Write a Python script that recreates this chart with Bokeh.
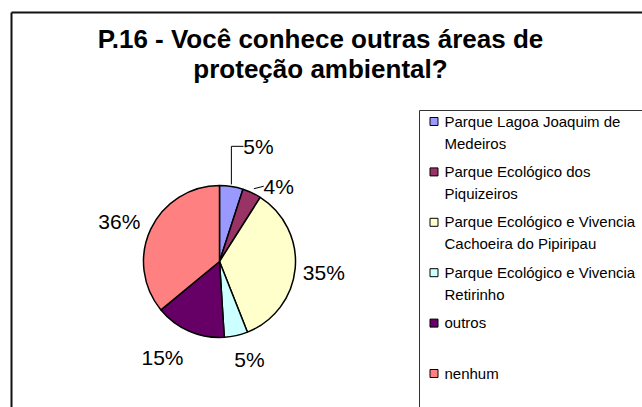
import math
from bokeh.plotting import figure
from bokeh.models import Range1d
from bokeh.core.properties import value
from bokeh.embed import file_html
from bokeh.resources import INLINE

# ---- data ----
categories = [
    "Parque Lagoa Joaquim de\nMedeiros",
    "Parque Ecológico dos\nPiquizeiros",
    "Parque Ecológico e Vivencia\nCachoeira do Pipiripau",
    "Parque Ecológico e Vivencia\nRetirinho",
    "outros",
    "nenhum",
]
values = [5, 4, 35, 5, 15, 36]
pct_labels = ["5%", "4%", "35%", "5%", "15%", "36%"]
colors = ["#9999FF", "#993366", "#FFFFCC", "#CCFFFF", "#660066", "#FF8080"]
title_lines = ["P.16 - Você conhece outras áreas de", "proteção ambiental?"]

# ---- layout ----
W, H = 642, 407
def sx(x):
    return x
def sy(y):
    return H - y

FONT = "Liberation Sans"
cx, cy, R = sx(219), sy(261), 76
label_angle_offset = [9.7, 13.0, 0.6, -4.4, 7.3, -3.4]
label_radius_factor = [1.60, 1.26, 1.38, 1.35, 1.47, 1.42]
has_leader = [True, True, False, False, False, False]

p = figure(width=W, height=H, output_backend="svg", toolbar_location=None,
           x_range=Range1d(0, W), y_range=Range1d(0, H), min_border=0)
p.axis.visible = False
p.grid.visible = False
p.outline_line_color = None
p.background_fill_color = "white"
p.border_fill_color = "white"

# outer chart frame (top & left edges visible)
p.multi_line(xs=[[sx(11), sx(11)], [sx(11), sx(700)]],
             ys=[[sy(500), sy(12)], [sy(12), sy(12)]],
             line_color="#111111", line_width=2)

# title
p.text(x=[sx(320)] * 2, y=[sy(38), sy(68)], text=title_lines, text_font=value(FONT),
       text_font_style="bold", text_font_size="26px", text_align="center",
       text_baseline="middle", text_color="black")

# pie
total = float(sum(values))
cum = 0.0
starts, ends, mids = [], [], []
for v in values:
    a0 = cum / total
    cum += v
    a1 = cum / total
    starts.append(math.pi / 2 - a0 * 2 * math.pi)
    ends.append(math.pi / 2 - a1 * 2 * math.pi)
    mids.append((a0 + a1) / 2 * 360.0)

p.wedge(x=cx, y=cy, radius=R, start_angle=starts, end_angle=ends,
        direction="clock", fill_color=colors, line_color="black", line_width=1.5)

# data labels
lx, ly = [], []
for i, m in enumerate(mids):
    th = math.radians(m + label_angle_offset[i])
    r = label_radius_factor[i] * R
    lx.append(cx + r * math.sin(th))
    ly.append(cy + r * math.cos(th))
p.text(x=lx, y=ly, text=pct_labels, text_font=value(FONT), text_font_size="21px",
       text_align="center", text_baseline="middle", text_color="black")

# leader lines
lxs, lys = [], []
for i, m in enumerate(mids):
    if not has_leader[i]:
        continue
    th = math.radians(m)
    ex = cx + R * math.sin(th)
    ey = cy + R * math.cos(th)
    half = 6 * len(pct_labels[i])
    if i == 0:
        lxs.append([ex, ex, lx[i] - half - 3])
        lys.append([ey + 2, ly[i], ly[i]])
    else:
        lxs.append([ex + 2, lx[i] - half - 3])
        lys.append([ey + 4, ly[i]])
p.multi_line(xs=lxs, ys=lys, line_color="black", line_width=1)

# legend box
p.multi_line(xs=[[sx(419), sx(419)], [sx(419), sx(700)]],
             ys=[[sy(500), sy(110)], [sy(110), sy(110)]],
             line_color="#333333", line_width=1)
leg_y = [sy(121 + 50.4 * i) for i in range(len(categories))]
p.scatter(x=[sx(433.5)] * len(categories), y=leg_y, marker="square", size=8,
          fill_color=colors, line_color="black", line_width=1)
p.text(x=[sx(444)] * len(categories), y=[y + 9 for y in leg_y], text=categories,
       text_font=value(FONT), text_font_size="15px", text_align="left",
       text_baseline="top", text_line_height=1.3, text_color="black")

open("out.html", "w").write(file_html(p, INLINE))
